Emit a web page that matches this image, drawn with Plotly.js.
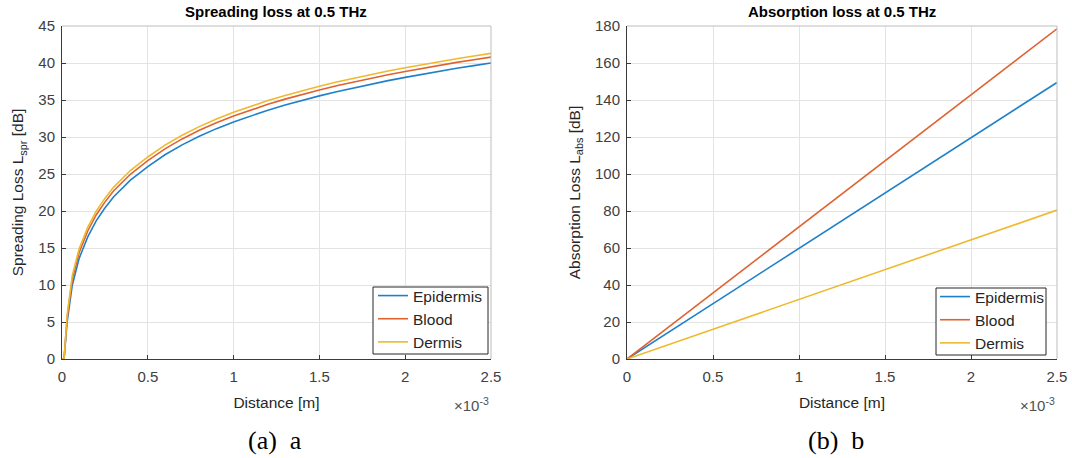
<!DOCTYPE html>
<html>
<head>
<meta charset="utf-8">
<script src="https://cdn.plot.ly/plotly-3.0.1.min.js"></script>
<style>html,body{margin:0;padding:0;background:#fff;}#chart{width:1072px;height:458px;}</style>
</head>
<body>
<div id="chart"></div>
<script>
// Distance in units of 1e-3 m
const distSpr = [0, 0.012, 0.03, 0.06, 0.1, 0.15, 0.2, 0.25, 0.3, 0.35, 0.4, 0.45, 0.5, 0.6, 0.7, 0.8, 0.9, 1.0, 1.1, 1.2, 1.3, 1.4, 1.5, 1.6, 1.7, 1.8, 1.9, 2.0, 2.1, 2.2, 2.3, 2.4, 2.5];
const sprEpidermis = [0, 0, 5, 10, 13.6, 16.5, 18.7, 20.4, 21.9, 23.1, 24.2, 25.1, 26.0, 27.6, 28.94, 30.1, 31.13, 32.04, 32.87, 33.62, 34.32, 34.96, 35.56, 36.12, 36.65, 37.15, 37.62, 38.06, 38.49, 38.89, 39.28, 39.65, 40.0];
const sprBlood     = [0, 0, 5.6, 10.8, 14.4, 17.3, 19.5, 21.2, 22.7, 23.9, 25.0, 25.9, 26.8, 28.4, 29.74, 30.9, 31.93, 32.84, 33.67, 34.42, 35.12, 35.76, 36.36, 36.92, 37.45, 37.95, 38.42, 38.86, 39.29, 39.69, 40.08, 40.45, 40.8];
const sprDermis    = [0, 0, 6.0, 11.3, 14.9, 17.8, 20.0, 21.7, 23.2, 24.4, 25.5, 26.4, 27.3, 28.9, 30.24, 31.4, 32.43, 33.34, 34.17, 34.92, 35.62, 36.26, 36.86, 37.42, 37.95, 38.45, 38.92, 39.36, 39.79, 40.19, 40.58, 40.95, 41.3];

const distAbs = [0, 0.5, 1.0, 1.5, 2.0, 2.5];
const absEpidermis = [0, 29.9, 59.8, 89.7, 119.6, 149.5];
const absBlood     = [0, 35.7, 71.4, 107.1, 142.8, 178.5];
const absDermis    = [0, 16.1, 32.2, 48.3, 64.4, 80.5];

const seriesNames = ['Epidermis', 'Blood', 'Dermis'];
const colors = ['#1f80c9', '#df6330', '#efb92e'];
const xTicks = [0, 0.5, 1, 1.5, 2, 2.5];
const xTickText = ['0', '0.5', '1', '1.5', '2', '2.5'];

const fontFam = '"Liberation Sans", Arial, sans-serif';
const traces = [];
[sprEpidermis, sprBlood, sprDermis].forEach((v, i) => {
  traces.push({x: distSpr, y: v, type: 'scatter', mode: 'lines', name: seriesNames[i],
    line: {color: colors[i], width: 1.6}, xaxis: 'x', yaxis: 'y', legend: 'legend'});
});
[absEpidermis, absBlood, absDermis].forEach((v, i) => {
  traces.push({x: distAbs, y: v, type: 'scatter', mode: 'lines', name: seriesNames[i],
    line: {color: colors[i], width: 1.6}, xaxis: 'x2', yaxis: 'y2', legend: 'legend2'});
});

const W = 1072, H = 458;
const px = v => v / W, py = v => 1 - v / H;

function xax(domain, anchor) {
  return {domain: domain, anchor: anchor, range: [0, 2.5], tickvals: xTicks, ticktext: xTickText,
    showgrid: true, gridcolor: '#e3e3e3', gridwidth: 1, zeroline: false,
    showline: true, linecolor: '#3a3a3a', linewidth: 1, mirror: false,
    ticks: 'inside', ticklen: 4, tickcolor: '#3a3a3a', ticklabelstandoff: 4,
    tickfont: {family: fontFam, size: 15, color: '#404040'},
    title: {text: 'Distance [m]', font: {family: fontFam, size: 15.5, color: '#262626'}, standoff: 13}};
}
function yax(domain, anchor, range, dtick, title) {
  return {domain: domain, anchor: anchor, range: range, dtick: dtick, tick0: 0,
    showgrid: true, gridcolor: '#e3e3e3', gridwidth: 1, zeroline: false,
    showline: true, linecolor: '#3a3a3a', linewidth: 1, mirror: false,
    ticks: 'inside', ticklen: 4, tickcolor: '#3a3a3a', ticklabelstandoff: 3,
    tickfont: {family: fontFam, size: 15, color: '#404040'},
    title: {text: title, font: {family: fontFam, size: 15.5, color: '#262626'}, standoff: 10}};
}

const yDom = [py(359), py(26)];
const legFont = {family: fontFam, size: 15.5, color: '#262626'};
const layout = {
  width: W, height: H,
  margin: {l: 0, r: 0, t: 0, b: 0},
  paper_bgcolor: '#ffffff', plot_bgcolor: '#ffffff',
  showlegend: true,
  xaxis: xax([px(62), px(491)], 'y'),
  yaxis: yax(yDom, 'x', [0, 45], 5, 'Spreading Loss L<sub>spr</sub> [dB]'),
  xaxis2: xax([px(627), px(1057)], 'y2'),
  yaxis2: yax(yDom, 'x2', [0, 180], 20, 'Absorption Loss L<sub>abs</sub> [dB]'),
  legend: {x: px(373), y: py(279), xanchor: 'left', yanchor: 'top', bgcolor: 'rgba(0,0,0,0)',
    borderwidth: 0, font: legFont, itemwidth: 30, tracegroupgap: 0},
  legend2: {x: px(935), y: py(280), xanchor: 'left', yanchor: 'top', bgcolor: 'rgba(0,0,0,0)',
    borderwidth: 0, font: legFont, itemwidth: 30, tracegroupgap: 0},
  shapes: [
    {type: 'line', xref: 'paper', yref: 'paper', x0: px(62), x1: px(491), y0: py(26), y1: py(26), line: {color: '#bdbdbd', width: 1}},
    {type: 'line', xref: 'paper', yref: 'paper', x0: px(491), x1: px(491), y0: py(359), y1: py(26), line: {color: '#bdbdbd', width: 1}},
    {type: 'line', xref: 'paper', yref: 'paper', x0: px(627), x1: px(1057), y0: py(26), y1: py(26), line: {color: '#bdbdbd', width: 1}},
    {type: 'line', xref: 'paper', yref: 'paper', x0: px(1057), x1: px(1057), y0: py(359), y1: py(26), line: {color: '#bdbdbd', width: 1}},
    {type: 'rect', xref: 'paper', yref: 'paper', layer: 'above', x0: px(373), x1: px(488), y0: py(354), y1: py(287), fillcolor: '#ffffff', line: {color: '#262626', width: 1}},
    {type: 'rect', xref: 'paper', yref: 'paper', layer: 'above', x0: px(936), x1: px(1046), y0: py(355), y1: py(288), fillcolor: '#ffffff', line: {color: '#262626', width: 1}}
  ],
  annotations: [
    {text: '<b>Spreading loss at 0.5 THz</b>', xref: 'paper', yref: 'paper', x: px(276), y: py(12), xanchor: 'center', yanchor: 'middle', showarrow: false, font: {family: fontFam, size: 15, color: '#000'}},
    {text: '<b>Absorption loss at 0.5 THz</b>', xref: 'paper', yref: 'paper', x: px(842), y: py(12), xanchor: 'center', yanchor: 'middle', showarrow: false, font: {family: fontFam, size: 15, color: '#000'}},
    {text: '×10<sup>-3</sup>', xref: 'paper', yref: 'paper', x: px(491), y: py(404), xanchor: 'right', yanchor: 'middle', showarrow: false, font: {family: fontFam, size: 15, color: '#505050'}},
    {text: '×10<sup>-3</sup>', xref: 'paper', yref: 'paper', x: px(1057), y: py(404), xanchor: 'right', yanchor: 'middle', showarrow: false, font: {family: fontFam, size: 15, color: '#505050'}},
    {text: '(a)&nbsp;&nbsp;a', xref: 'paper', yref: 'paper', x: px(275), y: py(440), xanchor: 'center', yanchor: 'middle', showarrow: false, font: {family: '"Liberation Serif", "DejaVu Serif", serif', size: 26, color: '#000'}},
    {text: '(b)&nbsp;&nbsp;b', xref: 'paper', yref: 'paper', x: px(836), y: py(440), xanchor: 'center', yanchor: 'middle', showarrow: false, font: {family: '"Liberation Serif", "DejaVu Serif", serif', size: 26, color: '#000'}}
  ]
};

Plotly.newPlot('chart', traces, layout, {displayModeBar: false, staticPlot: true});
</script>
</body>
</html>
